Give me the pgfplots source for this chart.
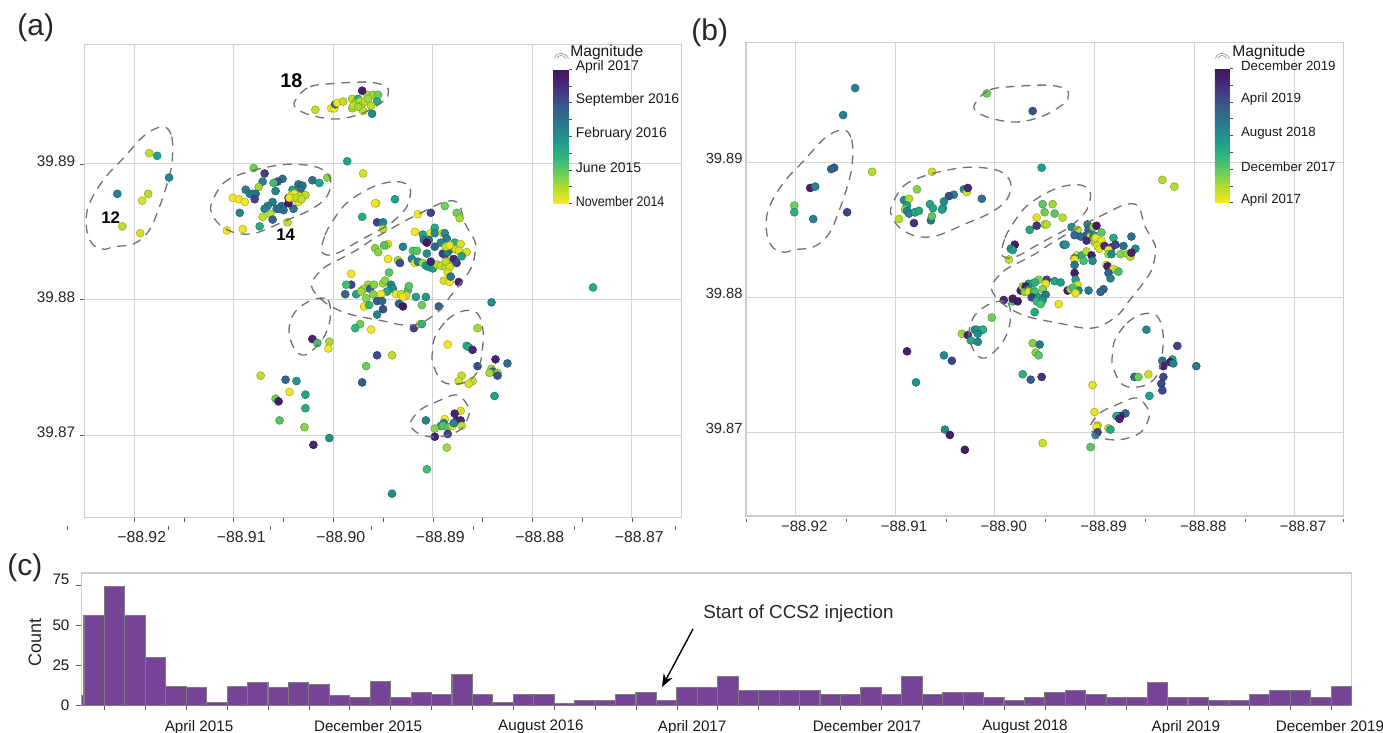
\documentclass[border=0pt]{standalone}
\usepackage{fontspec}
\setmainfont{Liberation Sans}
\usepackage{graphicx}
\usepackage{pgfplots}
\pgfplotsset{compat=1.18}
\usetikzlibrary{arrows.meta}
\definecolor{gridc}{RGB}{212,212,212}
\definecolor{framec}{RGB}{205,205,205}
\definecolor{barc}{RGB}{120,68,152}
\definecolor{baredge}{RGB}{125,125,125}
\definecolor{regc}{RGB}{112,112,112}
\pgfplotsset{
 colormap={vr}{rgb255=(253,231,37) rgb255=(181,222,43) rgb255=(110,206,88) rgb255=(53,183,121) rgb255=(31,158,137) rgb255=(38,130,142) rgb255=(49,104,142) rgb255=(62,73,137) rgb255=(72,40,120) rgb255=(68,20,90)},
 mapstyle/.style={scale only axis, colormap name=vr,
   axis line style={draw=framec,line width=.7pt},
   grid=major, grid style={draw=gridc,line width=.5pt},
   xtick={-88.92,-88.91,-88.90,-88.89,-88.88,-88.87},
   xticklabels={−88.92,−88.91,−88.90,−88.89,−88.88,−88.87},
   ytick={39.87,39.88,39.89},
   yticklabels={39.87,39.88,39.89},
   minor x tick num=1,
   xtick pos=bottom, ytick pos=left, tick align=outside,
   major tick length=2.2pt, minor tick length=2.2pt,
   tick style={draw=black!65,line width=.3pt},
   tick label style={text=black!85},
   clip=true},
 cbstyle/.style={scale only axis,width=7.5pt,height=67.3pt,
   axis line style={draw=none},
   ytick pos=right, yticklabel pos=right, tick align=outside,
   minor y tick num=1, major tick length=1.5pt, minor tick length=1.5pt,
   tick style={draw=black!70,line width=.3pt},
   yticklabel style={text=black!90,yshift=1.2pt,anchor=west},
   xtick=\empty, grid=none},
 quake/.style={scatter, only marks, mark=*, point meta=explicit,
   visualization depends on={\thisrow{mag}\as\pr},
   scatter/@pre marker code/.append style={/tikz/mark size=1.25*\pr},
   scatter/use mapped color={draw=mapped color!74!black,fill=mapped color},
   mark options={line width=.25pt}},
}
\newcommand{\regions}{%
 \draw[regc,line width=.65pt,dash pattern=on 4.5pt off 3.4pt]
  plot[smooth cycle,tension=.6] coordinates {(163.3,126.7)(171.7,136.7)(172.3,160)(168.3,180)(158.3,210)(148.3,231.7)(133.3,244)(113.3,246.7)(105,249.3)(93.3,245)(86.7,230)(88.3,206.7)(103.3,180)(123.3,158.3)(145,135)}
  plot[smooth cycle,tension=.6] coordinates {(296.7,98.3)(310,86.7)(336.7,83.3)(370,82.3)(386.7,87)(388,95)(385,100)(363,113)(336.7,119)(310,115)(295,107)}
  plot[smooth cycle,tension=.6] coordinates {(211.7,203)(223.3,183.3)(243.3,173.3)(273.3,166)(296.7,164.3)(320,168.3)(330.7,180)(326.7,196.7)(310,210)(283.3,221.7)(256.7,232.7)(236.7,233.3)(220,225)(211.7,213)}
  plot[smooth cycle,tension=.6] coordinates {(321.7,250)(325,235)(333.3,220)(348.3,201.7)(375,186)(398.3,181.7)(410,188.3)(408.3,203.3)(401.7,213.3)(388.3,225)(370,235)(355,243.3)(338.3,252.7)(326.7,255)}
  plot[smooth cycle,tension=.6] coordinates {(311.7,283.3)(323.3,268.3)(340,259)(356.7,250)(371.7,240)(390,229.3)(406.7,220)(426.7,210)(445,201.7)(458.3,203.3)(465,223.3)(475,241.7)(475,253.3)(471.7,266.7)(463.3,280)(450,296.7)(438.3,311.7)(420,323.3)(403.3,325)(383.3,321)(350,314.3)(330,305.7)(316.7,295)}
  plot[smooth cycle,tension=.6] coordinates {(312,300)(328,300)(330,320)(322,340)(305,355)(294,348)(289,330)(295,312)}
  plot[smooth cycle,tension=.6] coordinates {(435,337)(447,320)(463,311)(477,313)(483,330)(481.7,355)(476.7,373)(463,383)(443,382)(432.7,363)(432.7,350)}
  plot[smooth cycle,tension=.6] coordinates {(410,423)(420,410)(436.7,401.7)(456.7,395)(468.3,406.7)(468.3,416.7)(460,430)(440,436.7)(421.7,435)(411.7,428)};
}
\newcommand{\magicon}[1]{%
 \draw[black!45,line width=.3pt,shift={(#1,0)}] (0.5,58.5) .. controls (2,51.5) and (11,51.5) .. (14.5,58.5) (3,58.5) .. controls (4,54.5) and (9.5,54.5) .. (12,58.5);
}
\begin{document}
\begin{tikzpicture}
\path[use as bounding box] (0,0) rectangle (691.5pt,-366.5pt);
% ---------- panel a
\begin{axis}[mapstyle, at={(42.35pt,-22.35pt)}, anchor=north west,
  width=298.5pt, height=236.3pt,
  xmin=-88.92498, xmax=-88.86499, ymin=39.86396, ymax=39.89879,
  point meta min=2014.85, point meta max=2017.3,
  xticklabel style={font=\fontsize{7.9}{9}\selectfont,xshift=3.7pt,yshift=-1.6pt},
  yticklabel style={font=\fontsize{7.65}{9}\selectfont,yshift=1.4pt,xshift=1pt},
  colorbar, colorbar style={cbstyle, at={(0.7856,0.9486)}, anchor=north west,
    ytick={2014.85,2015.4625,2016.075,2016.6875,2017.3},
    yticklabels={\scalebox{.89}[1]{November 2014},June 2015,February 2016,September 2016,April 2017},
    yticklabel style={font=\fontsize{7}{8}\selectfont,xshift=-1.5pt}}]
\addplot[quake] table[x=lon,y=lat,meta=t] {
lon lat t mag
-88.9018 39.8940 2015.1 1.9
-88.9002 39.8941 2014.9 1.6
-88.8999 39.8941 2014.9 1.6
-88.8998 39.8944 2016.5 1.6
-88.8996 39.8945 2014.9 1.6
-88.8990 39.8946 2015.1 1.6
-88.8981 39.8948 2015.1 1.9
-88.8981 39.8941 2015.2 1.6
-88.8978 39.8945 2015.1 1.6
-88.8975 39.8948 2015.8 1.7
-88.8977 39.8945 2015.2 1.7
-88.8973 39.8946 2015.1 1.7
-88.8972 39.8943 2015.2 1.7
-88.8968 39.8946 2015.1 1.7
-88.8970 39.8939 2015.1 1.6
-88.8966 39.8951 2015.2 1.7
-88.8960 39.8951 2015.2 1.7
-88.8955 39.8951 2015.4 1.8
-88.8956 39.8946 2015.8 1.6
-88.8962 39.8943 2015.1 1.6
-88.8961 39.8937 2016.1 1.7
-88.8971 39.8954 2017.2 1.7
-88.8965 39.8948 2015.2 1.7
-88.8980 39.8943 2015.1 1.6
-88.8975 39.8942 2015.2 1.7
-88.9185 39.8908 2015.1 1.8
-88.9177 39.8906 2015.9 1.6
-88.9165 39.8890 2016.2 1.6
-88.9217 39.8878 2016.2 1.7
-88.9186 39.8878 2015.1 1.7
-88.9192 39.8873 2015.0 1.6
-88.9212 39.8854 2015.1 1.6
-88.9194 39.8849 2015.0 1.6
-88.9080 39.8897 2015.4 1.5
-88.9069 39.8893 2016.8 1.6
-88.9051 39.8889 2016.4 1.5
-88.9056 39.8887 2016.7 1.5
-88.9060 39.8886 2015.6 1.5
-88.9071 39.8887 2016.2 1.6
-88.9075 39.8883 2015.2 1.6
-88.9021 39.8888 2016.4 1.6
-88.9014 39.8886 2015.9 1.9
-88.9006 39.8890 2015.3 1.5
-88.9088 39.8881 2016.3 1.7
-88.9084 39.8878 2016.2 1.7
-88.9081 39.8878 2016.2 1.7
-88.9078 39.8878 2016.4 1.8
-88.9079 39.8874 2016.8 1.6
-88.9058 39.8880 2016.2 1.6
-88.9041 39.8881 2015.9 1.5
-88.9035 39.8885 2016.4 1.8
-88.9031 39.8884 2016.4 1.7
-88.9033 39.8881 2016.4 1.7
-88.9101 39.8875 2014.9 1.6
-88.9095 39.8874 2014.9 1.6
-88.9089 39.8872 2014.9 1.6
-88.9061 39.8872 2016.2 1.6
-88.9066 39.8869 2016.2 1.6
-88.9069 39.8867 2016.2 1.6
-88.9057 39.8867 2016.3 1.6
-88.9052 39.8869 2016.4 1.7
-88.9054 39.8867 2016.4 1.7
-88.9050 39.8866 2016.4 1.7
-88.9040 39.8867 2016.4 1.5
-88.9045 39.8871 2017.2 1.6
-88.9094 39.8864 2016.2 1.8
-88.9063 39.8863 2015.1 1.5
-88.9071 39.8861 2015.1 1.5
-88.9061 39.8859 2016.5 1.5
-88.9074 39.8854 2015.8 1.7
-88.9046 39.8857 2015.1 1.5
-88.9091 39.8852 2014.9 1.6
-88.9107 39.8851 2014.9 1.4
-88.9045 39.8875 2016.8 1.5
-88.9042 39.8877 2014.9 1.6
-88.9039 39.8878 2014.9 1.6
-88.9034 39.8876 2014.9 1.6
-88.9028 39.8877 2015.1 1.5
-88.9040 39.8875 2014.9 1.6
-88.9035 39.8872 2014.9 1.6
-88.9044 39.8875 2014.9 1.6
-88.9037 39.8875 2015.1 1.6
-88.9032 39.8874 2015.1 1.6
-88.8986 39.8902 2015.9 1.7
-88.8970 39.8893 2015.0 1.5
-88.8957 39.8871 2014.9 1.5
-88.8971 39.8861 2015.8 1.4
-88.8956 39.8857 2016.8 1.6
-88.8950 39.8857 2016.2 1.4
-88.8950 39.8852 2015.1 1.3
-88.8982 39.8819 2014.9 1.5
-88.8958 39.8871 2014.9 1.6
-88.8938 39.8874 2015.9 1.7
-88.8915 39.8863 2014.9 1.5
-88.8902 39.8864 2016.8 1.5
-88.8888 39.8869 2015.4 1.5
-88.8876 39.8864 2015.4 1.5
-88.8873 39.8860 2015.2 1.7
-88.8918 39.8850 2014.9 1.5
-88.8910 39.8848 2015.9 2.0
-88.8902 39.8849 2014.9 1.8
-88.8898 39.8853 2015.8 1.7
-88.8898 39.8849 2016.1 1.6
-88.8890 39.8849 2014.9 1.5
-88.8888 39.8849 2016.1 1.5
-88.8886 39.8845 2016.3 1.5
-88.8909 39.8844 2016.3 1.5
-88.8904 39.8844 2016.3 1.5
-88.8906 39.8842 2017.2 1.3
-88.8898 39.8839 2016.5 1.3
-88.8892 39.8842 2016.1 1.7
-88.8945 39.8841 2014.9 1.4
-88.8947 39.8840 2015.1 1.4
-88.8949 39.8840 2015.5 1.5
-88.8958 39.8838 2015.3 1.7
-88.8955 39.8835 2015.3 1.5
-88.8930 39.8839 2016.2 1.7
-88.8920 39.8836 2015.5 1.4
-88.8916 39.8836 2015.5 1.4
-88.8906 39.8834 2016.1 1.5
-88.8945 39.8830 2014.9 1.4
-88.8935 39.8829 2015.2 1.3
-88.8933 39.8827 2016.7 1.2
-88.8921 39.8830 2016.2 1.6
-88.8918 39.8827 2014.9 1.6
-88.8915 39.8828 2016.2 1.6
-88.8910 39.8827 2015.2 1.6
-88.8907 39.8825 2016.0 1.6
-88.8904 39.8824 2016.0 1.6
-88.8900 39.8823 2016.0 1.6
-88.8896 39.8826 2015.1 1.7
-88.8892 39.8825 2015.1 1.7
-88.8887 39.8824 2015.1 1.7
-88.8902 39.8828 2017.1 1.5
-88.8890 39.8834 2016.8 1.6
-88.8888 39.8833 2016.8 1.6
-88.8885 39.8835 2016.2 1.6
-88.8882 39.8837 2016.4 1.6
-88.8878 39.8842 2015.8 1.7
-88.8887 39.8839 2015.1 1.5
-88.8883 39.8840 2014.9 1.5
-88.8872 39.8841 2015.0 1.5
-88.8877 39.8837 2015.0 1.5
-88.8874 39.8836 2015.0 1.5
-88.8866 39.8835 2015.0 1.7
-88.8871 39.8832 2015.9 1.5
-88.8882 39.8829 2014.9 1.6
-88.8887 39.8828 2015.1 1.6
-88.8879 39.8830 2017.0 1.4
-88.8876 39.8827 2016.8 1.6
-88.8883 39.8824 2015.0 1.5
-88.8885 39.8820 2015.0 1.6
-88.8889 39.8814 2015.0 1.5
-88.8883 39.8813 2014.9 1.4
-88.8882 39.8817 2016.3 1.5
-88.8874 39.8813 2017.1 1.5
-88.8982 39.8811 2016.8 2.0
-88.8987 39.8811 2015.6 1.3
-88.8977 39.8804 2015.9 1.7
-88.8988 39.8804 2016.5 .8
-88.8971 39.8807 2015.2 1.8
-88.8965 39.8811 2015.2 1.7
-88.8969 39.8808 2015.2 1.8
-88.8972 39.8806 2015.2 1.7
-88.8963 39.8808 2016.5 1.4
-88.8959 39.8811 2015.3 1.5
-88.8960 39.8804 2015.3 1.5
-88.8967 39.8801 2015.3 1.5
-88.8950 39.8812 2015.2 1.4
-88.8948 39.8814 2015.3 1.5
-88.8942 39.8811 2016.2 1.5
-88.8940 39.8808 2016.1 1.6
-88.8946 39.8806 2015.9 1.4
-88.8952 39.8804 2014.9 1.2
-88.8937 39.8804 2014.9 1.4
-88.8925 39.8807 2015.6 2.0
-88.8924 39.8810 2015.5 1.4
-88.8932 39.8804 2015.1 1.3
-88.8927 39.8803 2015.0 1.7
-88.8930 39.8802 2014.9 1.5
-88.8917 39.8802 2015.9 1.3
-88.8907 39.8802 2016.0 1.3
-88.8944 39.8820 2015.5 1.9
-88.8969 39.8795 2014.9 1.8
-88.8964 39.8796 2015.7 1.4
-88.8956 39.8799 2016.6 1.9
-88.8951 39.8799 2016.5 1.3
-88.8934 39.8797 2016.5 1.4
-88.8930 39.8795 2017.2 1.1
-88.8950 39.8793 2016.7 1.2
-88.8956 39.8789 2016.2 1.1
-88.8911 39.8796 2015.4 1.3
-88.8894 39.8795 2016.5 1.2
-88.8841 39.8798 2016.1 1.7
-88.8855 39.8779 2015.2 1.6
-88.8973 39.8782 2015.4 2.0
-88.8978 39.8779 2015.7 1.2
-88.8962 39.8778 2014.9 1.5
-88.8919 39.8779 2016.8 1.7
-88.8913 39.8782 2014.9 1.7
-88.8911 39.8782 2015.7 1.1
-88.9021 39.8771 2017.1 1.6
-88.9016 39.8768 2015.6 1.7
-88.9004 39.8769 2015.2 1.3
-88.9005 39.8764 2014.9 1.4
-88.9073 39.8744 2015.1 1.6
-88.9048 39.8741 2016.5 1.5
-88.9037 39.8740 2016.0 1.6
-88.9044 39.8732 2014.9 1.7
-88.9028 39.8730 2015.9 1.6
-88.9058 39.8727 2015.4 1.5
-88.9055 39.8725 2017.2 2.1
-88.9028 39.8720 2015.8 1.8
-88.9054 39.8711 2015.5 1.7
-88.9029 39.8706 2015.3 1.5
-88.9020 39.8693 2017.1 1.5
-88.9004 39.8698 2016.1 1.8
-88.8956 39.8759 2016.7 1.7
-88.8941 39.8759 2015.1 1.9
-88.8967 39.8751 2015.4 1.6
-88.8971 39.8739 2016.6 1.9
-88.8885 39.8767 2014.9 1.5
-88.8866 39.8766 2015.8 1.5
-88.8864 39.8765 2015.8 1.5
-88.8860 39.8763 2017.0 1.5
-88.8837 39.8756 2017.1 1.3
-88.8825 39.8753 2016.4 1.5
-88.8855 39.8751 2016.7 1.3
-88.8841 39.8749 2015.2 1.5
-88.8840 39.8747 2016.5 1.2
-88.8843 39.8746 2015.2 1.4
-88.8835 39.8746 2015.2 1.4
-88.8835 39.8744 2016.7 1.4
-88.8871 39.8744 2015.1 1.7
-88.8874 39.8740 2015.0 1.5
-88.8860 39.8740 2015.1 2.0
-88.8864 39.8738 2015.0 1.4
-88.8838 39.8729 2015.9 1.3
-88.8872 39.8718 2015.0 1.9
-88.8878 39.8716 2017.1 1.5
-88.8876 39.8711 2017.1 1.5
-88.8872 39.8711 2017.1 1.5
-88.8888 39.8712 2014.9 1.6
-88.8889 39.8709 2016.2 1.5
-88.8892 39.8707 2016.0 1.4
-88.8890 39.8707 2015.5 1.4
-88.8885 39.8706 2015.5 1.6
-88.8880 39.8707 2014.9 1.9
-88.8879 39.8709 2016.2 1.5
-88.8871 39.8707 2015.1 1.7
-88.8907 39.8711 2016.2 1.5
-88.8898 39.8705 2015.3 1.5
-88.8885 39.8701 2016.8 1.4
-88.8898 39.8699 2017.1 1.5
-88.8886 39.8691 2015.2 1.6
-88.8906 39.8675 2015.6 1.5
-88.8941 39.8657 2016.1 1.3
-88.8739 39.8809 2015.8 1.5
};
\end{axis}
% ---------- panel b
\begin{axis}[mapstyle, at={(373pt,-21.15pt)}, anchor=north west,
  width=298.65pt, height=236.85pt,
  xmin=-88.92494, xmax=-88.86506, ymin=39.8638, ymax=39.89889,
  point meta min=2017.3, point meta max=2020,
  major tick length=0pt, minor tick length=0pt,
  xticklabel style={font=\fontsize{7.5}{9}\selectfont,xshift=4.5pt,yshift=1pt},
  yticklabel style={font=\fontsize{7.35}{9}\selectfont,yshift=2pt,xshift=1.8pt},
  colorbar, colorbar style={cbstyle, at={(0.7848,0.9454)}, anchor=north west,
    ytick={2017.3,2017.975,2018.65,2019.325,2020},
    yticklabels={April 2017,December 2017,August 2018,April 2019,December 2019},
    yticklabel style={font=\fontsize{6.65}{8}\selectfont,xshift=.6pt}}]
\addplot[quake] table[x=lon,y=lat,meta=t] {
lon lat t mag
-88.9140 39.8955 2018.8 1.6
-88.9152 39.8935 2018.8 1.6
-88.9161 39.8896 2019.15 1.6
-88.9164 39.8895 2019.15 1.6
-88.9185 39.8881 2019.85 1.8
-88.9180 39.8882 2018.8 1.8
-88.9123 39.8893 2017.6 2.0
-88.9201 39.8868 2017.9 2.0
-88.9201 39.8863 2018.3 1.6
-88.9182 39.8858 2018.8 1.6
-88.9148 39.8863 2019.45 1.7
-88.9008 39.8951 2017.9 1.3
-88.8962 39.8938 2019.3 1.5
-88.9063 39.8893 2017.5 1.6
-88.9078 39.8880 2017.8 1.8
-88.8953 39.8896 2018.5 1.5
-88.9031 39.8880 2018.8 1.5
-88.9028 39.8878 2017.5 1.4
-88.9027 39.8881 2019.7 1.5
-88.9013 39.8873 2019.0 1.5
-88.9041 39.8876 2018.8 1.7
-88.9046 39.8875 2019.4 1.5
-88.9051 39.8871 2018.7 1.4
-88.9065 39.8869 2018.4 1.7
-88.9062 39.8866 2018.4 1.6
-88.9052 39.8866 2018.5 1.7
-88.9053 39.8865 2018.5 1.7
-88.9064 39.8857 2019.0 1.6
-88.9063 39.8860 2018.0 1.7
-88.9091 39.8872 2018.7 1.5
-88.9086 39.8873 2017.6 1.8
-88.9088 39.8868 2018.5 1.7
-88.9090 39.8865 2017.7 1.5
-88.9088 39.8864 2018.7 1.6
-88.9086 39.8862 2018.8 1.7
-88.9080 39.8863 2019.7 1.6
-88.9080 39.8863 2018.4 1.5
-88.9076 39.8864 2018.4 1.6
-88.9096 39.8858 2017.6 1.6
-88.9081 39.8855 2019.6 1.7
-88.8952 39.8869 2018.0 1.9
-88.8950 39.8863 2017.9 1.8
-88.8958 39.8859 2017.4 1.5
-88.8965 39.8850 2018.4 1.5
-88.8950 39.8854 2017.6 1.5
-88.8958 39.8853 2019.6 1.5
-88.8980 39.8839 2019.85 1.2
-88.8984 39.8836 2018.6 1.5
-88.8982 39.8835 2018.5 1.5
-88.8986 39.8828 2017.6 1.7
-88.8942 39.8869 2017.7 1.7
-88.8940 39.8862 2018.0 1.5
-88.8932 39.8859 2017.6 1.6
-88.8948 39.8854 2017.6 1.5
-88.8832 39.8887 2017.6 1.7
-88.8820 39.8882 2017.6 1.4
-88.8923 39.8852 2018.7 1.5
-88.8917 39.8850 2017.6 1.3
-88.8907 39.8854 2018.9 1.5
-88.8906 39.8850 2019.1 1.9
-88.8908 39.8846 2019.1 1.8
-88.8914 39.8845 2019.1 1.7
-88.8920 39.8846 2019.1 1.4
-88.8904 39.8845 2017.4 1.6
-88.8901 39.8846 2018.8 1.7
-88.8901 39.8852 2017.7 1.9
-88.8898 39.8853 2019.85 1.6
-88.8893 39.8848 2018.0 1.6
-88.8908 39.8842 2019.7 1.6
-88.8900 39.8841 2017.7 1.5
-88.8899 39.8844 2017.4 1.6
-88.8893 39.8842 2017.4 1.5
-88.8897 39.8838 2017.4 1.4
-88.8895 39.8836 2017.4 1.3
-88.8890 39.8838 2019.7 1.6
-88.8881 39.8844 2018.4 1.5
-88.8863 39.8845 2019.0 1.5
-88.8871 39.8838 2019.0 1.4
-88.8883 39.8837 2019.45 1.7
-88.8879 39.8839 2019.45 1.7
-88.8886 39.8835 2017.4 1.6
-88.8886 39.8832 2017.7 1.5
-88.8883 39.8832 2018.7 1.5
-88.8874 39.8832 2017.8 1.3
-88.8867 39.8832 2017.7 1.4
-88.8864 39.8830 2017.6 1.4
-88.8859 39.8836 2018.7 1.5
-88.8863 39.8833 2019.8 1.5
-88.8931 39.8839 2018.8 1.7
-88.8929 39.8839 2018.6 1.7
-88.8918 39.8831 2017.4 1.4
-88.8913 39.8831 2018.3 1.5
-88.8908 39.8834 2017.6 1.3
-88.8903 39.8831 2019.85 1
-88.8920 39.8829 2018.8 1.2
-88.8920 39.8828 2017.4 1.4
-88.8911 39.8827 2018.1 1.3
-88.8902 39.8827 2018.7 1.3
-88.8920 39.8824 2019.0 1.2
-88.8888 39.8824 2017.4 1.6
-88.8887 39.8823 2019.85 1.4
-88.8881 39.8821 2017.4 1.3
-88.8878 39.8820 2017.4 1.3
-88.8876 39.8819 2018.1 1.4
-88.8886 39.8818 2019.1 1.5
-88.8884 39.8814 2018.8 1.4
-88.8920 39.8818 2019.85 1.1
-88.8919 39.8813 2018.4 1.5
-88.8917 39.8809 2017.5 1.1
-88.8916 39.8805 2018.7 1
-88.8906 39.8805 2018.9 1
-88.8927 39.8805 2019.85 1.5
-88.8924 39.8806 2017.6 1.6
-88.8922 39.8807 2018.1 1.8
-88.8919 39.8803 2017.4 1.2
-88.8891 39.8806 2019.1 1.4
-88.8894 39.8804 2019.1 1.3
-88.8948 39.8813 2019.45 1.6
-88.8956 39.8813 2017.8 1.9
-88.8940 39.8812 2018.4 1.3
-88.8934 39.8811 2018.5 1.3
-88.8949 39.8810 2017.4 1.2
-88.8952 39.8806 2017.8 1.5
-88.8949 39.8802 2018.9 1.9
-88.8974 39.8805 2019.85 1.7
-88.8972 39.8808 2017.7 1.7
-88.8966 39.8810 2018.4 1.6
-88.8963 39.8810 2018.4 1.6
-88.8960 39.8811 2018.3 1.6
-88.8969 39.8808 2019.85 1.1
-88.8970 39.8804 2017.8 1.6
-88.8966 39.8806 2018.7 1.6
-88.8966 39.8804 2017.4 1.5
-88.8961 39.8805 2017.9 1.5
-88.8960 39.8804 2018.1 1.5
-88.8963 39.8800 2019.4 1.4
-88.8956 39.8800 2018.5 1.5
-88.8958 39.8797 2018.2 1.5
-88.8952 39.8798 2018.6 1.3
-88.8954 39.8795 2018.1 1.6
-88.8936 39.8795 2017.4 1.1
-88.8960 39.8789 2018.4 1.3
-88.8991 39.8798 2019.7 1.4
-88.8982 39.8797 2018.1 1.5
-88.8982 39.8799 2019.85 1.5
-88.8977 39.8797 2019.85 1.5
-88.9003 39.8785 2017.9 1.5
-88.9012 39.8776 2018.6 1.4
-88.8848 39.8776 2018.7 1.4
-88.9033 39.8773 2017.7 1.1
-88.9027 39.8772 2019.7 1.4
-88.9020 39.8776 2018.7 1.5
-88.9018 39.8776 2018.6 1.5
-88.9012 39.8776 2018.3 1.4
-88.9017 39.8773 2018.7 1.3
-88.9024 39.8768 2018.4 1.5
-88.9017 39.8767 2018.7 1.2
-88.9088 39.8760 2019.85 1.5
-88.9051 39.8757 2018.7 1.5
-88.9043 39.8753 2019.45 1.4
-88.9079 39.8737 2018.6 1.2
-88.9050 39.8702 2018.7 1.5
-88.9045 39.8698 2019.85 1.5
-88.9030 39.8687 2019.85 1.8
-88.8962 39.8766 2017.8 2.3
-88.8959 39.8759 2017.8 1.8
-88.8956 39.8757 2018.0 2.4
-88.8955 39.8765 2018.9 2.3
-88.8972 39.8743 2018.3 1.5
-88.8964 39.8739 2019.2 1.3
-88.8953 39.8741 2019.6 1.6
-88.8817 39.8764 2019.45 1.8
-88.8832 39.8753 2019.0 1.9
-88.8822 39.8754 2018.4 1.6
-88.8824 39.8752 2019.8 1.6
-88.8821 39.8751 2018.8 1.6
-88.8831 39.8749 2019.8 1.2
-88.8798 39.8749 2018.9 1.5
-88.8831 39.8741 2019.4 1.4
-88.8833 39.8736 2019.4 1.4
-88.8832 39.8731 2019.4 1.4
-88.8860 39.8741 2019.1 1.8
-88.8856 39.8741 2017.9 1.7
-88.8846 39.8743 2017.5 1.4
-88.8902 39.8735 2017.4 1.4
-88.8845 39.8727 2018.5 1.4
-88.8900 39.8715 2017.4 1.4
-88.8869 39.8714 2019.1 1.4
-88.8874 39.8712 2019.7 1.4
-88.8878 39.8712 2018.4 1.3
-88.8875 39.8710 2019.8 1.9
-88.8897 39.8705 2017.7 1.5
-88.8898 39.8704 2017.4 1.5
-88.8886 39.8703 2017.5 1.6
-88.8884 39.8702 2018.4 1.3
-88.8899 39.8698 2018.6 1.4
-88.8897 39.8700 2019.4 1.9
-88.8952 39.8692 2017.5 1.4
-88.8904 39.8689 2018.0 1.2
};
\end{axis}
% ---------- panel c
\begin{axis}[scale only axis, at={(40.75pt,-286.5pt)}, anchor=north west,
  width=635pt, height=66.15pt,
  xmin=-0.12, xmax=62, ymin=0, ymax=82.7,
  axis line style={draw=framec,line width=.7pt},
  xtick={1,3,...,61}, xticklabels={},
  extra x ticks={5.63,13.9,22.35,29.75,38.3,46.03,53.9,60.95},
  extra x tick labels={April 2015,December 2015,August 2016,April 2017,December 2017,August 2018,April 2019,December 2019},
  extra x tick style={major tick length=0pt,xticklabel style={yshift=-4pt}},
  ytick={0,25,50,75}, yticklabels={0,25,50,\raisebox{6pt}{75}},
  xtick pos=bottom, ytick pos=left, tick align=outside,
  major tick length=2.5pt,
  tick style={draw=black!65,line width=.3pt},
  tick label style={font=\fontsize{7.6}{9}\selectfont,text=black!90},
  ylabel={Count}, ylabel style={font=\fontsize{9}{10}\selectfont,text=black!85,at={(axis description cs:-0.0366,0.477)},anchor=center},
  ]
\addplot[ybar interval, fill=barc, draw=baredge, line width=.55pt] coordinates {
(-1,6)(0,56)(1,74)(2,56)(3,30)(4,12)(5,11)(6,2)(7,12)(8,14)(9,11)(10,14)(11,13)(12,6)(13,5)(14,15)(15,5)(16,8)(17,7)(18,19)(19,7)(20,2)(21,7)(22,7)(23,1)(24,3)(25,3)(26,7)(27,8)(28,3)(29,11)(30,11)(31,18)(32,9)(33,9)(34,9)(35,9)(36,7)(37,7)(38,11)(39,7)(40,18)(41,7)(42,8)(43,8)(44,5)(45,3)(46,5)(47,8)(48,9)(49,7)(50,5)(51,5)(52,14)(53,5)(54,5)(55,3)(56,3)(57,7)(58,9)(59,9)(60,5)(61,12)(62,12)};
\end{axis}
% ---------- annotations in reference pixels
\begin{scope}[x=.5pt,y=-.5pt]
 \regions
 \begin{scope}[shift={(680,3)}]\regions\end{scope}
 \magicon{554}
 \magicon{1215}
 \foreach \tx in {67.3,168.7,270.1,371.5,472.9,574.3,675.7} \draw[black!60,line width=.3pt] (\tx,526) -- (\tx,529.5);
 \foreach \tx in {746.3,846,945.8,1045.5,1145.3,1245,1343.5} \draw[black!60,line width=.3pt] (\tx,518.5) -- (\tx,522);
 \node[anchor=west,inner sep=0,font=\fontsize{7.8}{9}\selectfont,text=black!90] at (570,52) {Magnitude};
 \node[anchor=west,inner sep=0,font=\fontsize{7.8}{9}\selectfont,text=black!90] at (1232,52) {Magnitude};
 \node[anchor=center,inner sep=0,font=\bfseries\fontsize{9.9}{11}\selectfont] at (291.3,80.7) {18};
 \node[anchor=center,inner sep=0,font=\bfseries\fontsize{8.4}{10}\selectfont] at (285.7,235) {14};
 \node[anchor=center,inner sep=0,font=\bfseries\fontsize{8.4}{10}\selectfont] at (110.7,218) {12};
 \node[anchor=west,inner sep=0,font=\fontsize{15}{17}\selectfont,text=black!85] at (17,28) {(a)};
 \node[anchor=west,inner sep=0,font=\fontsize{15}{17}\selectfont,text=black!85] at (691,33) {(b)};
 \node[anchor=west,inner sep=0,font=\fontsize{15}{17}\selectfont,text=black!85] at (7,568) {(c)};
 \node[anchor=west,inner sep=0,font=\fontsize{9.4}{11}\selectfont,text=black!85] at (703,613.5) {Start of CCS2 injection};
 \draw[black,line width=.7pt,-{Stealth[length=6.5pt,width=5pt]}] (693,629) -- (662,687);
\end{scope}
\end{tikzpicture}
\end{document}
